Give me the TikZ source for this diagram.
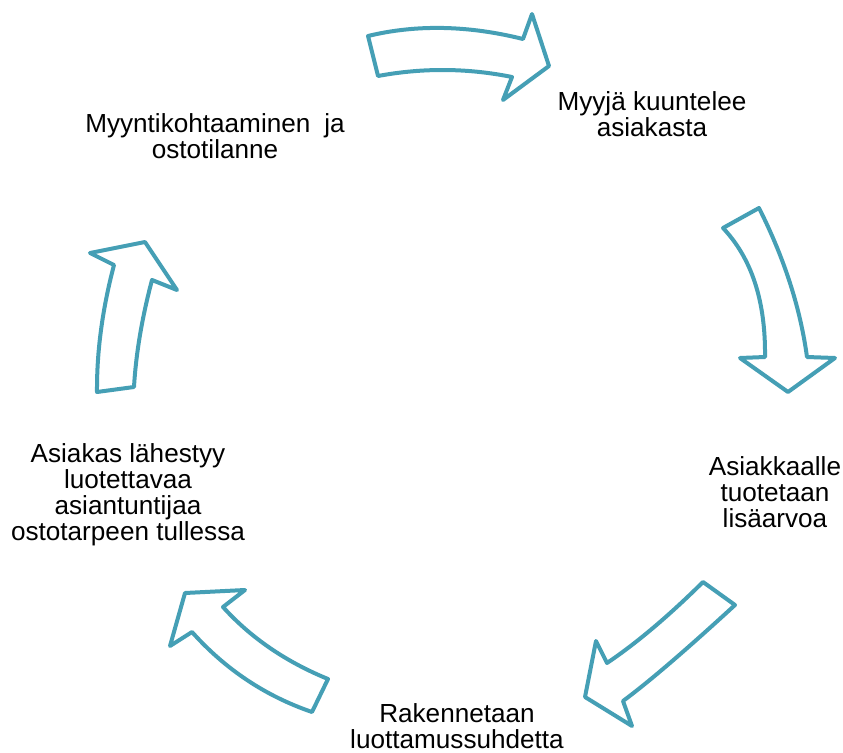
\documentclass[tikz,border=0pt]{standalone}
\usepackage{fontspec}
\setmainfont{Liberation Sans}
\definecolor{arrowteal}{RGB}{69,159,181}
\begin{document}
\begin{tikzpicture}[x=0.75pt,y=-0.75pt,
  cyclearrow/.style={draw=arrowteal,line width=3pt,line join=round,fill=white},
  steptext/.style={anchor=north,inner sep=0pt,align=center,text=black,
    font=\fontsize{19.6pt}{19.5pt}\selectfont}]
\useasboundingbox (0,0) rectangle (843,753);
% arrows
\draw[cyclearrow] (368,36) .. controls (416.3,24.3) and (468,25.3) .. (523,39) -- (532,14) -- (549,66) -- (503,100) -- (512,77) .. controls (467.3,68) and (422.7,67.7) .. (378,76) -- cycle;
\draw[cyclearrow] (759,208) .. controls (784.3,258.3) and (800.3,308) .. (807,357) -- (835,358) -- (788,392) -- (740,358) -- (765,357) .. controls (765.7,301.3) and (751.7,258.3) .. (723,228) -- cycle;
\draw[cyclearrow] (735,605) .. controls (685.7,650.3) and (648.3,682.3) .. (623,701) -- (632,726) -- (585,697) -- (596,641) -- (607,663) .. controls (636.3,643.3) and (668.3,616.3) .. (703,582) -- cycle;
\draw[cyclearrow] (312,712) .. controls (265.3,696) and (225.3,669.3) .. (192,632) -- (170,646) -- (185,593) -- (245,590) -- (223,607) .. controls (250.7,637.7) and (285.7,661.7) .. (328,679) -- cycle;
\draw[cyclearrow] (97,392) .. controls (96.7,351.7) and (102.3,309.3) .. (114,265) -- (90,253) -- (145,242) -- (177,290) -- (152,280) .. controls (142,317.7) and (136,353.3) .. (134,387) -- cycle;
% texts
\node[steptext] (t1) at (652,91) {Myyjä kuuntelee\\asiakasta};
\node[steptext] (t2) at (775,456) {Asiakkaalle\\tuotetaan\\lisäarvoa};
\node[steptext] (t3) at (457,703) {Rakennetaan\\luottamussuhdetta};
\node[steptext] (t4) at (128,443) {Asiakas lähestyy\\luotettavaa\\asiantuntijaa\\ostotarpeen tullessa};
\node[steptext] (t5) at (215,113) {Myyntikohtaaminen\hspace{5pt} ja\\ostotilanne};
\end{tikzpicture}
\end{document}
